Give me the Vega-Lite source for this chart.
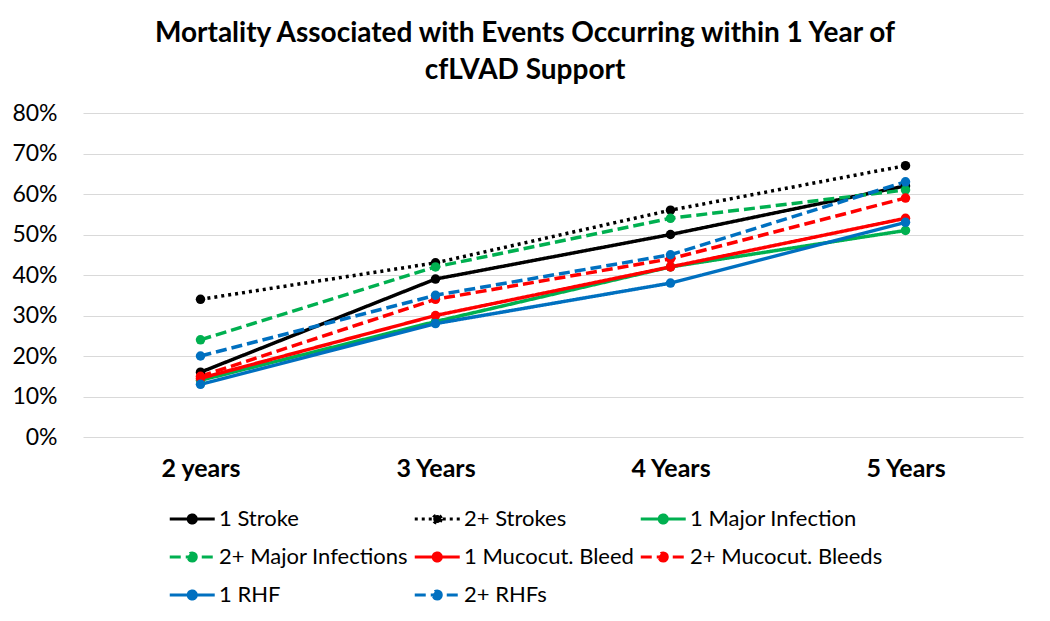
{
  "$schema": "https://vega.github.io/schema/vega-lite/v6.json",
  "autosize": {"type": "none"},
  "width": 940,
  "height": 324,
  "padding": {"left": 83, "top": 113, "right": 27, "bottom": 184},
  "background": "white",
  "title": {
    "text": ["Mortality Associated with Events Occurring within 1 Year of", "cfLVAD Support"],
    "font": "Lato",
    "fontSize": 28,
    "fontWeight": "bold",
    "color": "#000000",
    "lineHeight": 37,
    "anchor": "middle",
    "dx": -28,
    "offset": 17
  },
  "config": {
    "view": {"stroke": null},
    "font": "Lato",
    "axis": {"labelColor": "#000000"},
    "legend": {"labelColor": "#000000"}
  },
  "data": {
    "values": [
      {"series": "1 Stroke", "year": "2 years", "value": 0.16},
      {"series": "1 Stroke", "year": "3 Years", "value": 0.39},
      {"series": "1 Stroke", "year": "4 Years", "value": 0.50},
      {"series": "1 Stroke", "year": "5 Years", "value": 0.62},
      {"series": "2+ Strokes", "year": "2 years", "value": 0.34},
      {"series": "2+ Strokes", "year": "3 Years", "value": 0.43},
      {"series": "2+ Strokes", "year": "4 Years", "value": 0.56},
      {"series": "2+ Strokes", "year": "5 Years", "value": 0.67},
      {"series": "1 Major Infection", "year": "2 years", "value": 0.14},
      {"series": "1 Major Infection", "year": "3 Years", "value": 0.285},
      {"series": "1 Major Infection", "year": "4 Years", "value": 0.42},
      {"series": "1 Major Infection", "year": "5 Years", "value": 0.51},
      {"series": "2+ Major Infections", "year": "2 years", "value": 0.24},
      {"series": "2+ Major Infections", "year": "3 Years", "value": 0.42},
      {"series": "2+ Major Infections", "year": "4 Years", "value": 0.54},
      {"series": "2+ Major Infections", "year": "5 Years", "value": 0.61},
      {"series": "1 Mucocut. Bleed", "year": "2 years", "value": 0.145},
      {"series": "1 Mucocut. Bleed", "year": "3 Years", "value": 0.30},
      {"series": "1 Mucocut. Bleed", "year": "4 Years", "value": 0.42},
      {"series": "1 Mucocut. Bleed", "year": "5 Years", "value": 0.54},
      {"series": "2+ Mucocut. Bleeds", "year": "2 years", "value": 0.15},
      {"series": "2+ Mucocut. Bleeds", "year": "3 Years", "value": 0.34},
      {"series": "2+ Mucocut. Bleeds", "year": "4 Years", "value": 0.44},
      {"series": "2+ Mucocut. Bleeds", "year": "5 Years", "value": 0.59},
      {"series": "1 RHF", "year": "2 years", "value": 0.13},
      {"series": "1 RHF", "year": "3 Years", "value": 0.28},
      {"series": "1 RHF", "year": "4 Years", "value": 0.38},
      {"series": "1 RHF", "year": "5 Years", "value": 0.53},
      {"series": "2+ RHFs", "year": "2 years", "value": 0.20},
      {"series": "2+ RHFs", "year": "3 Years", "value": 0.35},
      {"series": "2+ RHFs", "year": "4 Years", "value": 0.45},
      {"series": "2+ RHFs", "year": "5 Years", "value": 0.63}
    ]
  },
  "mark": {"type": "line", "strokeWidth": 3.5, "point": {"filled": true, "size": 90}},
  "encoding": {
    "x": {
      "field": "year",
      "type": "nominal",
      "sort": ["2 years", "3 Years", "4 Years", "5 Years"],
      "scale": {"type": "point", "padding": 0.5},
      "axis": {
        "title": null,
        "labelAngle": 0,
        "labelFontSize": 25,
        "labelFontWeight": "bold",
        "labelPadding": 19,
        "ticks": false,
        "domain": false
      }
    },
    "y": {
      "field": "value",
      "type": "quantitative",
      "scale": {"domain": [0, 0.8]},
      "axis": {
        "title": null,
        "format": ".0%",
        "values": [0, 0.1, 0.2, 0.3, 0.4, 0.5, 0.6, 0.7, 0.8],
        "labelFontSize": 23,
        "labelPadding": 26,
        "ticks": false,
        "domain": false,
        "gridColor": "#d9d9d9",
        "gridWidth": 1
      }
    },
    "color": {
      "field": "series",
      "type": "nominal",
      "scale": {
        "domain": ["1 Stroke", "2+ Strokes", "1 Major Infection", "2+ Major Infections", "1 Mucocut. Bleed", "2+ Mucocut. Bleeds", "1 RHF", "2+ RHFs"],
        "range": ["#000000", "#000000", "#00B050", "#00B050", "#FF0000", "#FF0000", "#0070C0", "#0070C0"]
      },
      "legend": {
        "title": null,
        "orient": "none",
        "direction": "horizontal",
        "legendX": 85,
        "legendY": 393,
        "columns": 3,
        "gridAlign": "each",
        "columnPadding": 0,
        "rowPadding": 14,
        "labelFontSize": 22,
        "labelOffset": 25,
        "labelLimit": 0,
        "symbolType": "M-1,0L3,0M1.36,0A0.36,0.36,0,1,1,0.64,0A0.36,0.36,0,1,1,1.36,0Z",
        "symbolSize": 506,
        "symbolStrokeWidth": 3,
        "encode": {
          "symbols": {"update": {"fill": {"scale": "color", "field": "value"}}}
        }
      }
    },
    "strokeDash": {
      "field": "series",
      "type": "nominal",
      "scale": {
        "domain": ["1 Stroke", "2+ Strokes", "1 Major Infection", "2+ Major Infections", "1 Mucocut. Bleed", "2+ Mucocut. Bleeds", "1 RHF", "2+ RHFs"],
        "range": [[1, 0], [3, 4], [1, 0], [11, 5], [1, 0], [11, 5], [1, 0], [11, 5]]
      },
      "legend": null
    }
  }
}
